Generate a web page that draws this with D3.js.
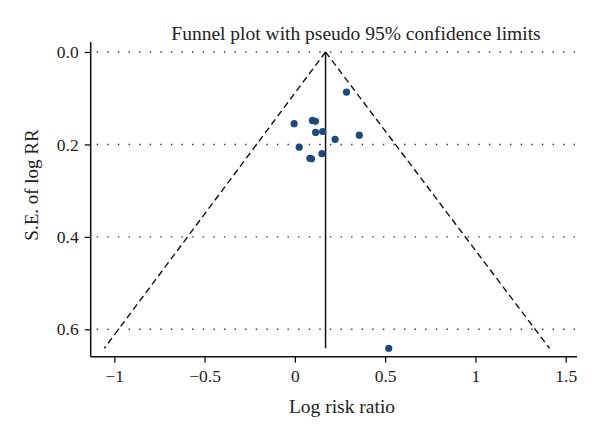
<!DOCTYPE html>
<html><head><meta charset="utf-8">
<script src="https://cdn.jsdelivr.net/npm/d3@7"></script>
<style>body{margin:0;background:#fff}svg{display:block}text{font-family:"Liberation Serif","DejaVu Serif",serif;fill:#222}</style>
</head><body><svg id="c" width="600" height="441"></svg>
<script>
const logRR = [0.286, -0.004, 0.097, 0.114, 0.115, 0.154, 0.223, 0.357, 0.024, 0.083, 0.092, 0.150, 0.520];
const seLogRR = [0.087, 0.155, 0.148, 0.150, 0.174, 0.172, 0.189, 0.180, 0.206, 0.230, 0.231, 0.220, 0.641];
const pooled = 0.17;
const maxSE = 0.641;
const limitLeft = [[pooled, 0], [-1.055, maxSE]];
const limitRight = [[pooled, 0], [1.41, maxSE]];
const xTicks = [-1, -0.5, 0, 0.5, 1, 1.5];
const xTickLabels = ["\u22121", "\u22120.5", "0", "0.5", "1", "1.5"];
const yTicks = [0, 0.2, 0.4, 0.6];
const yTickLabels = ["0.0", "0.2", "0.4", "0.6"];

const svg = d3.select("#c");
const x = d3.scaleLinear().domain([-1, 1.5]).range([114.3, 565.7]);
const y = d3.scaleLinear().domain([0, 0.6]).range([52, 329.3]);
const pLeft = 90.7, pRight = 577, pTop = 42, pBottom = 356.7;

// dotted grid
svg.append("g").selectAll("line").data(yTicks).join("line")
  .attr("x1", pLeft + 6).attr("x2", pRight - 2)
  .attr("y1", d => y(d)).attr("y2", d => y(d))
  .attr("stroke", "#333").attr("stroke-width", 1.4)
  .attr("stroke-dasharray", "1.4,9.2");

// axes
const xAxis = d3.axisBottom(x).tickValues(xTicks).tickFormat((d, i) => xTickLabels[i]).tickSize(6).tickPadding(7);
const gx = svg.append("g").attr("transform", `translate(0,${pBottom})`).call(xAxis);
gx.select(".domain").remove();
gx.append("line").attr("x1", pLeft).attr("x2", pRight).attr("stroke", "#111").attr("stroke-width", 1.5);
gx.selectAll(".tick line").attr("stroke", "#111").attr("stroke-width", 1.3);
gx.selectAll(".tick text").attr("font-size", 17.5).attr("fill", "#222").attr("font-family", "Liberation Serif");

const yAxis = d3.axisLeft(y).tickValues(yTicks).tickFormat((d, i) => yTickLabels[i]).tickSize(6).tickPadding(6);
const gy = svg.append("g").attr("transform", `translate(${pLeft},0)`).call(yAxis);
gy.select(".domain").remove();
gy.append("line").attr("y1", pTop).attr("y2", pBottom).attr("stroke", "#111").attr("stroke-width", 1.5);
gy.selectAll(".tick line").attr("stroke", "#111").attr("stroke-width", 1.3);
gy.selectAll(".tick text").attr("font-size", 17.5).attr("fill", "#222").attr("font-family", "Liberation Serif");

// funnel limits
const line = d3.line().x(d => x(d[0])).y(d => y(d[1]));
[limitLeft, limitRight].forEach(l => {
  svg.append("path").attr("d", line(l)).attr("fill", "none")
    .attr("stroke", "#111").attr("stroke-width", 1.4).attr("stroke-dasharray", "6.5,4");
});
svg.append("line").attr("x1", x(pooled)).attr("x2", x(pooled))
  .attr("y1", y(0)).attr("y2", y(maxSE)).attr("stroke", "#111").attr("stroke-width", 1.5);

// points
svg.append("g").selectAll("circle").data(logRR).join("circle")
  .attr("cx", d => x(d)).attr("cy", (d, i) => y(seLogRR[i])).attr("r", 3.6)
  .attr("fill", "#1d4a78");

// titles
svg.append("text").attr("x", 356).attr("y", 40).attr("text-anchor", "middle")
  .attr("font-size", 19.5).text("Funnel plot with pseudo 95% confidence limits");
svg.append("text").attr("x", 342).attr("y", 413).attr("text-anchor", "middle")
  .attr("font-size", 19.5).text("Log risk ratio");
svg.append("text").attr("transform", "translate(38,185) rotate(-90)").attr("text-anchor", "middle")
  .attr("font-size", 19).text("S.E. of log RR");
</script></body></html>
